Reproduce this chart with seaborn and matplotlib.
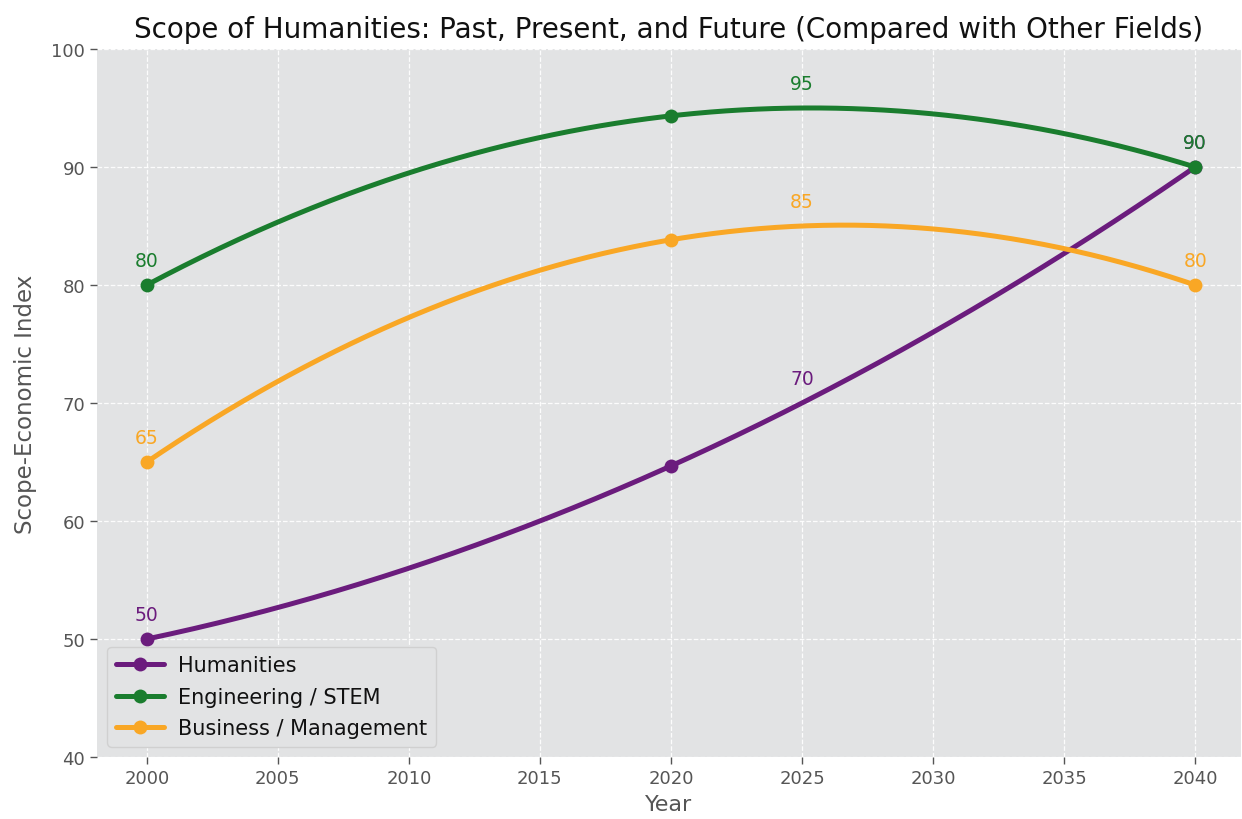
import numpy as np
import pandas as pd
import matplotlib
matplotlib.use("Agg")
import matplotlib.pyplot as plt
import seaborn as sns

# Data
years = [2000, 2025, 2040]
humanities = [50, 70, 90]
stem = [80, 95, 90]
business = [65, 85, 80]
series_names = ["Humanities", "Engineering / STEM", "Business / Management"]
series_colors = ["#6b1c7d", "#1a7d2e", "#f9a725"]
marker_years = [2000, 2020, 2040]
x_ticks = [2000, 2005, 2010, 2015, 2020, 2025, 2030, 2035, 2040]
y_ticks = [40, 50, 60, 70, 80, 90, 100]

sns.set_theme(style="darkgrid")
plt.rcParams["font.family"] = ["DejaVu Sans"]

fig = plt.figure(figsize=(12.42, 8.2), dpi=100)
ax = fig.add_axes([97 / 1242, 1 - 758 / 820, (1241 - 97) / 1242, (758 - 50) / 820])
ax.set_facecolor("#e2e3e4")

xs = np.linspace(years[0], years[-1], 401)
mark_idx = [int(np.argmin(np.abs(xs - m))) for m in marker_years]

for name, vals, col in zip(series_names, [humanities, stem, business], series_colors):
    coef = np.polyfit(years, vals, 2)
    ys = np.polyval(coef, xs)
    df = pd.DataFrame({"Year": xs, "Value": ys})
    sns.lineplot(data=df, x="Year", y="Value", ax=ax, color=col, linewidth=3.6,
                 marker="o", markersize=10, markevery=mark_idx, markeredgewidth=0,
                 label=name, estimator=None, sort=False)
    for yr, v in zip(years, vals):
        ax.annotate(f"{v}", (yr, v), xytext=(0, 11), textcoords="offset points",
                    ha="center", va="bottom", fontsize=13.5, color=col)

ax.set_xlim(1998.1, 2041.75)
ax.set_ylim(40, 100)
ax.set_xticks(x_ticks)
ax.set_yticks(y_ticks)
ax.grid(True, color="white", linestyle="--", linewidth=0.9, alpha=0.9)
for s in ax.spines.values():
    s.set_visible(False)
ax.tick_params(axis="both", which="major", labelsize=13, colors="#555555",
               length=5, width=1, direction="out", bottom=True, left=True)
ax.tick_params(axis="both", labelcolor="#555555")

ax.set_title("Scope of Humanities: Past, Present, and Future (Compared with Other Fields)",
             fontsize=20, color="#111111", pad=9)
ax.set_xlabel("Year", fontsize=16, color="#555555", labelpad=5)
ax.set_ylabel("Scope-Economic Index", fontsize=16.5, color="#555555", labelpad=10)

leg = ax.legend(loc="lower left", fontsize=15, frameon=True, facecolor="#e2e3e4",
                edgecolor="#d0d0d0", framealpha=1.0, borderpad=0.4,
                handlelength=2.3, handletextpad=0.7, labelspacing=0.55,
                bbox_to_anchor=(0.0, 0.0))
for t in leg.get_texts():
    t.set_color("#111111")

fig.savefig("out.png", dpi=100)
